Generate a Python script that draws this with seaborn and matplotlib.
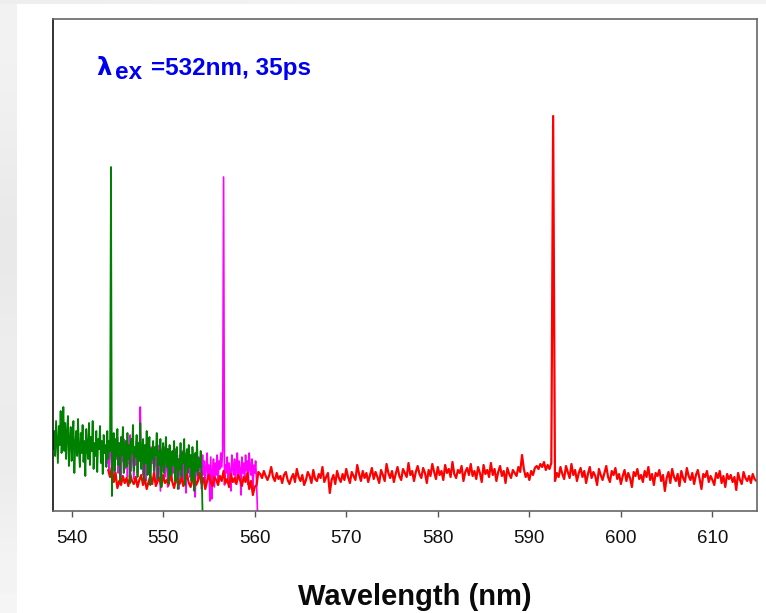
import numpy as np
import pandas as pd
import matplotlib
matplotlib.use("Agg")
import matplotlib.pyplot as plt
import seaborn as sns

# Emission spectra (intensity, arbitrary units) on regular wavelength grids
green_start, green_step = 538.0, 0.1
green_vals = [
    62, 80, 55, 90, 70, 48, 85, 66, 100, 58,
    75, 104, 60, 88, 52, 79, 95, 45, 70, 84,
    50, 72, 90, 38, 66, 80, 55, 92, 60, 44,
    78, 58, 86, 49, 70, 35, 82, 64, 52, 88,
    46, 74, 60, 90, 42, 68, 55, 80, 39, 72,
    62, 85, 48, 70, 37, 76, 58, 66, 44, 80,
    52, 70, 60, 344, 15, 64, 78, 40, 72, 55,
    82, 46, 68, 30, 74, 56, 84, 38, 62, 70,
    44, 78, 52, 66, 28, 72, 58, 86, 40, 64,
    54, 76, 34, 68, 50, 88, 42, 60, 72, 30,
    66, 48, 80, 36, 58, 74, 26, 62, 52, 70,
    40, 64, 56, 78, 32, 60, 46, 72, 24, 58,
    68, 38, 54, 74, 44, 62, 28, 66, 50, 36,
    60, 46, 70, 30, 56, 64, 22, 52, 42, 68,
    34, 58, 48, 72, 26, 54, 62, 38, 66, 44,
    56, 30, 64, 46, 20, 58, 40, 70, 36, 52,
    44, 60, 38, 0,
]

magenta_start, magenta_step = 543.9, 0.1
magenta_vals = [
    48,
    70, 40, 62, 78, 35, 56, 66, 30, 60, 52,
    74, 38, 58, 68, 28, 64, 50, 72, 42, 56,
    66, 34, 60, 48, 76, 40, 54, 62, 32, 58,
    46, 70, 38, 64, 55, 104, 44, 60, 36, 52,
    62, 30, 56, 70, 42, 50, 26, 64, 48, 58,
    36, 60, 52, 28, 66, 44, 54, 20, 58, 40,
    50, 64, 34, 56, 46, 24, 60, 42, 52, 30,
    58, 38, 48, 62, 28, 54, 44, 22, 56, 36,
    46, 60, 30, 52, 40, 18, 54, 44, 58, 34,
    50, 26, 48, 56, 38, 14, 52, 42, 30, 54,
    40, 48, 22, 56, 36, 50, 28, 44, 58, 32,
    46, 10, 54, 12, 40, 52, 24, 48, 36, 56,
    30, 50, 42, 58, 44, 61, 334, 26, 46, 38,
    54, 32, 48, 40, 20, 56, 44, 36, 52, 28,
    46, 58, 34, 50, 42, 16, 54, 38, 48, 30,
    56, 40, 50, 26, 58, 44, 36, 52, 20, 46,
    38, 50, 30, 0,
]

red_start, red_step = 544.0, 0.2
red_vals = [
    41, 34, 44, 29, 38, 23, 30, 26, 35, 28,
    33, 25, 37, 30, 27, 34, 24, 31, 36, 26,
    32, 22, 29, 35, 27, 38, 25, 30, 33, 24,
    36, 28, 31, 26, 40, 29, 23, 33, 30, 27,
    34, 25, 31, 37, 28, 24, 32, 35, 26, 30,
    38, 27, 33, 22, 30, 36, 29, 25, 34, 31,
    26, 35, 30, 40, 28, 32, 24, 37, 29, 33,
    27, 36, 31, 25, 34, 29, 38, 22, 30, 16,
    24, 26, 39, 37, 33, 40, 35, 31, 36, 44,
    34, 30, 38, 32, 35, 28, 36, 39, 31, 27,
    33, 37, 29, 42, 34, 30, 36, 26, 31, 39,
    35, 28, 41, 32, 30, 37, 33, 44, 29, 34,
    38, 18, 31, 36, 27, 40, 33, 29, 37, 31,
    42, 34, 28, 39, 35, 31, 46, 37, 30, 40,
    33, 38, 29, 36, 43, 32, 39, 34, 28, 41,
    36, 30, 47, 38, 33, 40, 29, 37, 44, 35,
    31, 42, 38, 34, 48, 36, 40, 30, 39, 45,
    37, 33, 43, 38, 28, 41, 35, 47, 39, 32,
    44, 36, 40, 31, 46, 38, 42, 34, 49, 37,
    33, 41, 38, 45, 30, 39, 43, 36, 47, 35,
    40, 32, 44, 38, 29, 46, 37, 41, 34, 48,
    36, 42, 30, 39, 45, 35, 40, 28, 43, 37,
    33, 41, 38, 35, 44, 39, 56, 42, 34, 38,
    31, 40, 36, 43, 45, 42, 47, 44, 49, 41,
    46, 42, 48, 395, 30, 38, 34, 44, 37, 32,
    45, 39, 33, 47, 36, 41, 30, 38, 43, 34,
    40, 28, 37, 44, 33, 39, 35, 26, 42, 36,
    31, 38, 45, 34, 29, 40, 36, 43, 32, 37,
    27, 35, 41, 30, 38, 33, 24, 39, 35, 42,
    32, 36, 29, 40, 34, 44, 31, 37, 26, 38,
    35, 41, 30, 36, 20, 33, 39, 28, 42, 34,
    30, 37, 25, 40, 33, 29, 43, 35, 31, 38,
    27, 36, 41, 32, 22, 37, 34, 40, 29, 35,
    31, 26, 38, 33, 40, 28, 35, 24, 37, 32,
    36, 29, 34, 21, 38, 31, 27, 39, 33, 30,
    35, 28, 37, 32, 30,
]

x_ticks = [540, 550, 560, 570, 580, 590, 600, 610]


def spectrum(start, step, vals):
    wl = start + step * np.arange(len(vals))
    return pd.DataFrame({"wavelength": wl, "intensity": vals})


sns.set_theme(style="white")
plt.rcParams["font.family"] = ["Liberation Sans", "DejaVu Sans"]

W, H = 766, 613
fig = plt.figure(figsize=(W / 100, H / 100), dpi=100, facecolor="white")

# slide-style grey margin on the left and top
strip = fig.add_axes([0, 0, 17 / W, 1])
shade = np.array([[0.95], [0.93], [0.90], [0.94], [0.91], [0.96]])
strip.imshow(shade, cmap="gray", vmin=0, vmax=1, aspect="auto",
             interpolation="bicubic", extent=[0, 1, 0, 1])
strip.set_axis_off()
top = fig.add_axes([0, 1 - 4 / H, 1, 4 / H])
top.imshow(np.array([[0.93, 0.95, 0.96, 0.95]]), cmap="gray", vmin=0, vmax=1,
           aspect="auto", interpolation="bicubic", extent=[0, 1, 0, 1])
top.set_axis_off()

ax_l, ax_r, ax_t, ax_b = 53.3, 757.3, 19.0, 511.0
ax = fig.add_axes([ax_l / W, 1 - ax_b / H, (ax_r - ax_l) / W, (ax_b - ax_t) / H])
ax.set_facecolor("white")

df_m = spectrum(magenta_start, magenta_step, magenta_vals)
df_r = spectrum(red_start, red_step, red_vals)
df_g = spectrum(green_start, green_step, green_vals)

sns.lineplot(data=df_m, x="wavelength", y="intensity", color="#FF00FF",
             lw=1.2, ax=ax, estimator=None, sort=False)
sns.lineplot(data=df_r, x="wavelength", y="intensity", color="#FF0000",
             lw=1.6, ax=ax, estimator=None, sort=False)
sns.lineplot(data=df_g, x="wavelength", y="intensity", color="#008000",
             lw=1.3, ax=ax, estimator=None, sort=False)

ax.set_xlim(538.0, 614.9)
ax.set_ylim(0, 492)
ax.set_xticks(x_ticks)
ax.set_xticklabels([str(t) for t in x_ticks])
ax.set_yticks([])
ax.set_xlabel("")
ax.set_ylabel("")
ax.tick_params(axis="x", bottom=True, direction="out", length=4.5, width=1.0,
               color="#555555", labelsize=13.5, labelcolor="#111111", pad=9)
for side, col in [("left", "#111111"), ("top", "#666666"),
                  ("right", "#666666"), ("bottom", "#666666")]:
    ax.spines[side].set_visible(True)
    ax.spines[side].set_color(col)
    ax.spines[side].set_linewidth(1.2)

# excitation annotation
aw, ah = ax_r - ax_l, ax_b - ax_t
def axpos(px, py):
    return (px - ax_l) / aw, (ax_b - py) / ah

kw = dict(transform=ax.transAxes, color="#0000F0", fontweight="bold",
          fontsize=17.5, va="baseline", ha="left")
ax.text(*axpos(96, 75), "λ", family=["DejaVu Sans"], **kw)
ax.text(*axpos(115, 79), "ex", **kw)
ax.text(*axpos(151, 75), "=532nm, 35ps", **kw)

fig.text(415 / W, 1 - 597 / H, "Wavelength (nm)", ha="center", va="center",
         fontsize=21, fontweight="bold", color="#0a0a0a")

fig.savefig("out.png", dpi=100, facecolor="white")
